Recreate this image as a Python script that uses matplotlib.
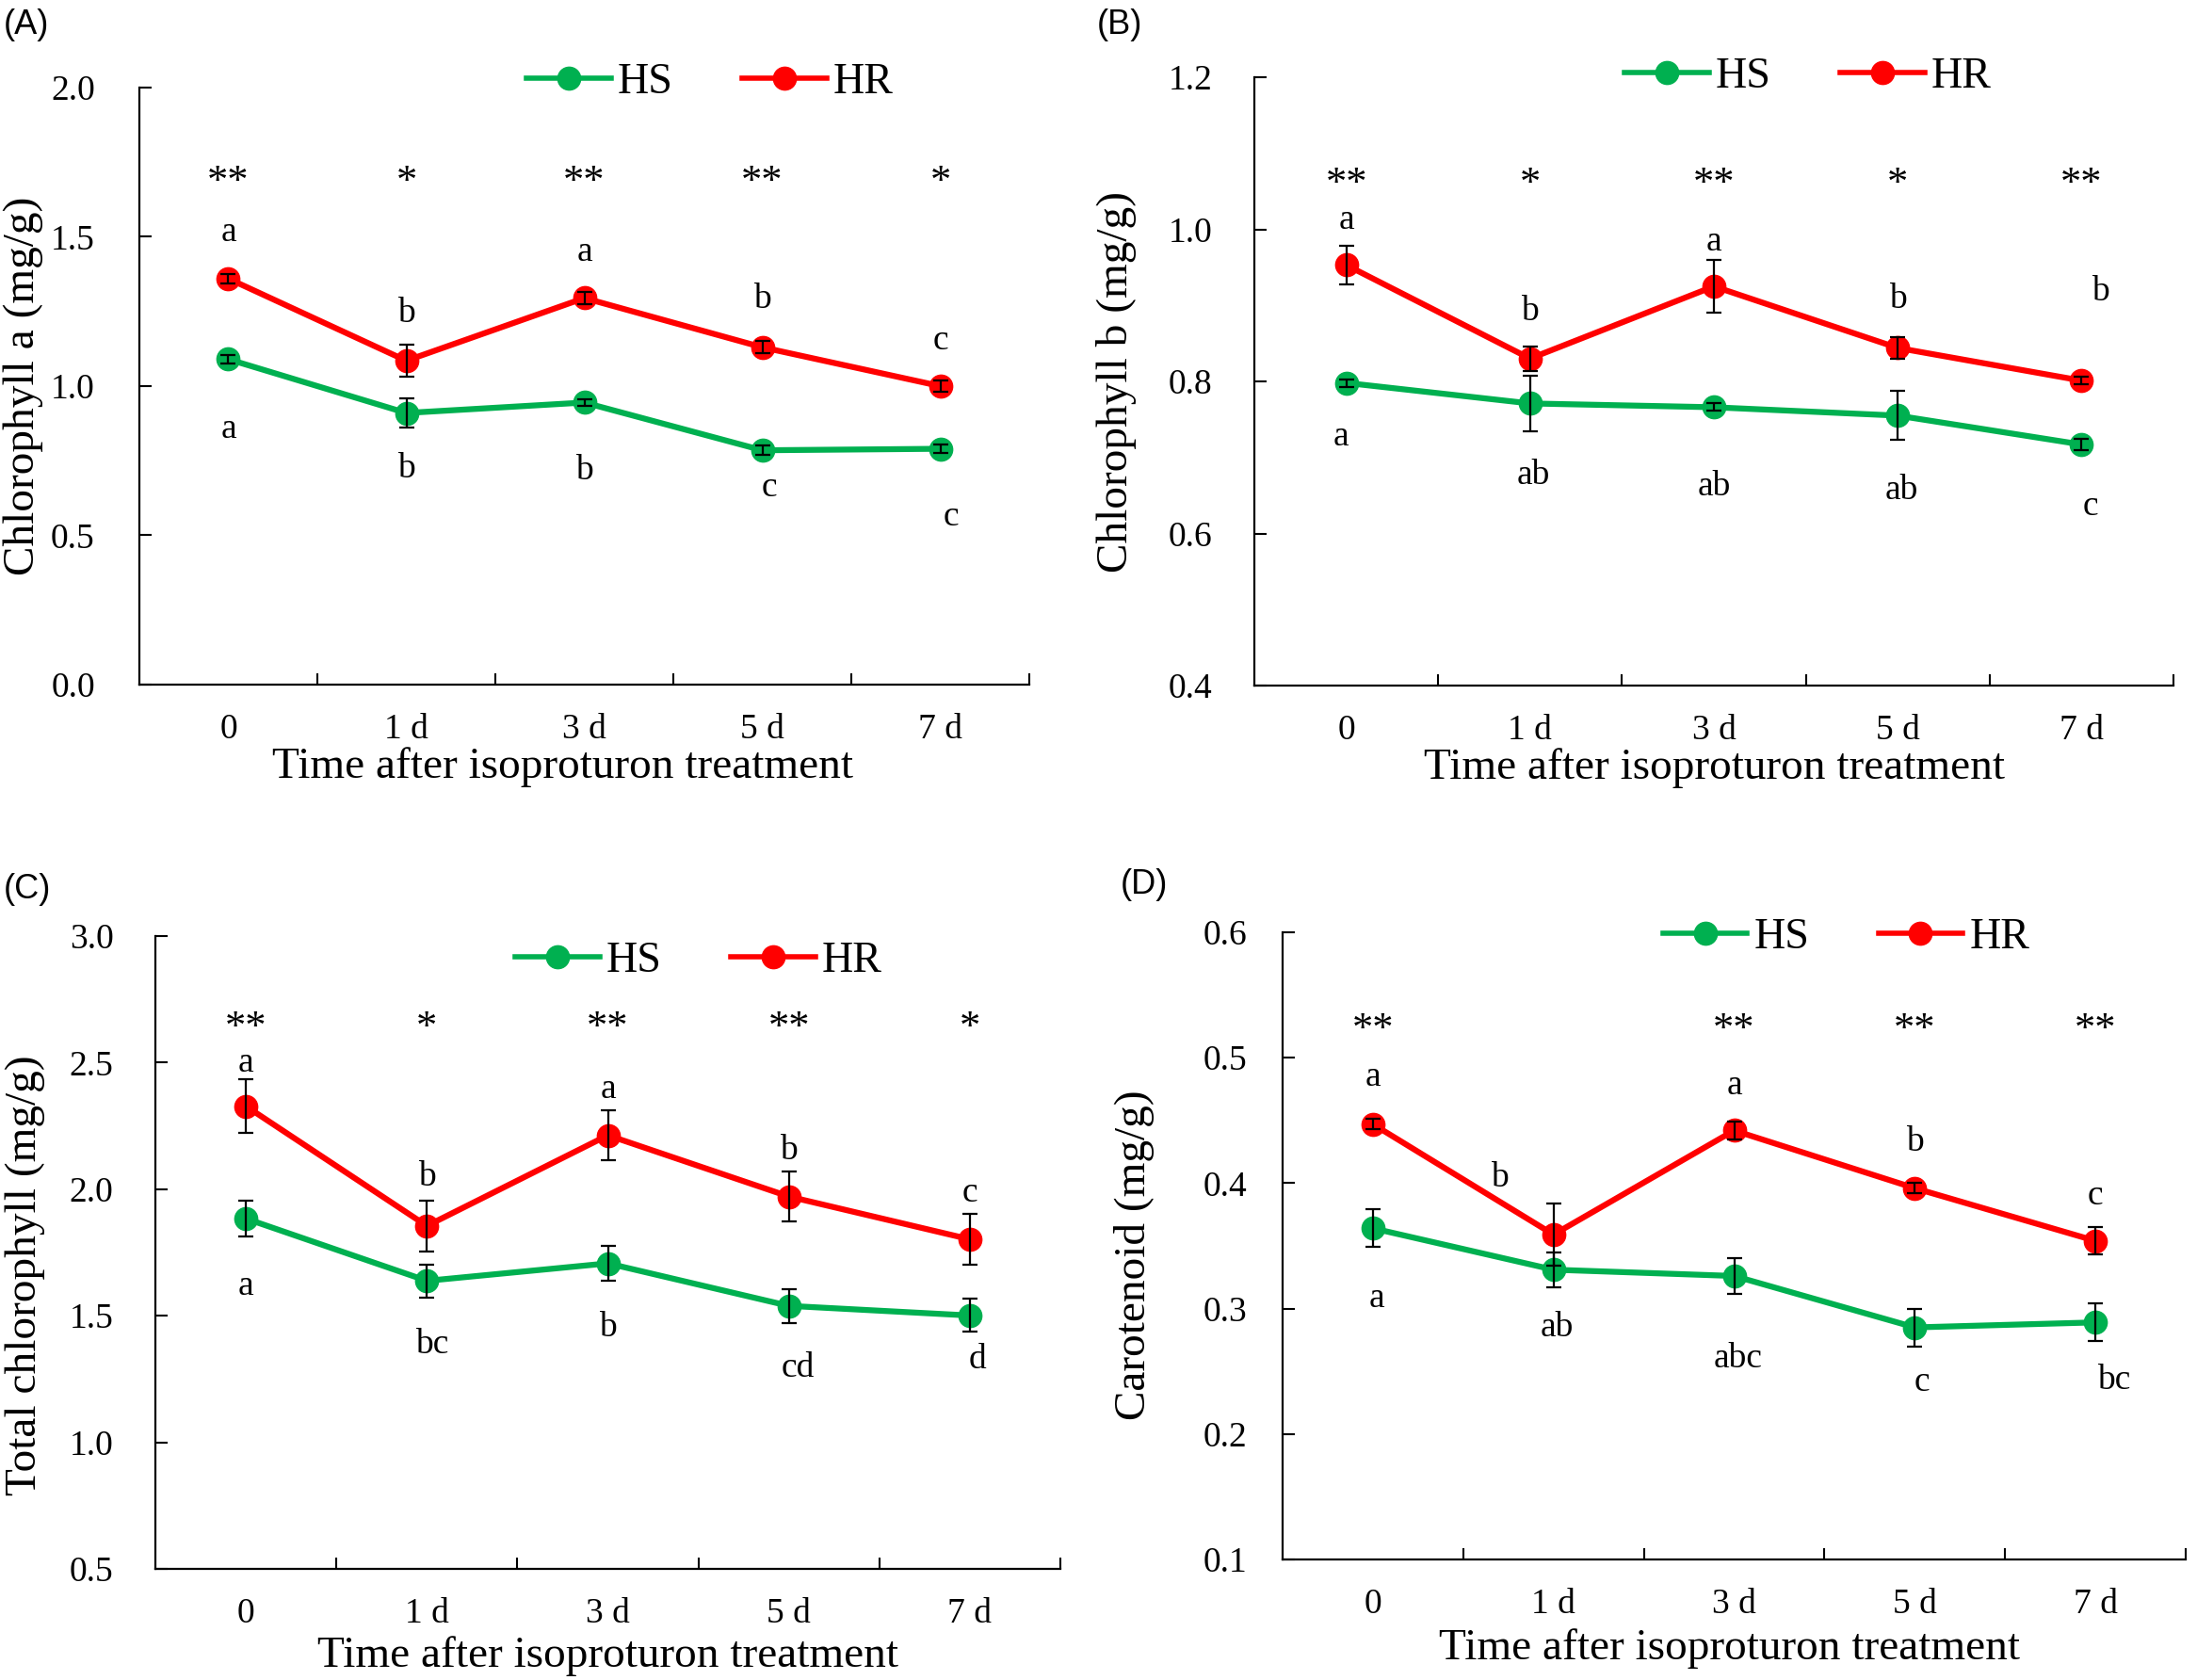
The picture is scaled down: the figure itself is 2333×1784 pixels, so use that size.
import matplotlib
matplotlib.use("Agg")
import matplotlib.pyplot as plt
import numpy as np

plt.rcParams["font.family"] = ["Liberation Serif", "DejaVu Serif"]

# ---------------- data ----------------
categories = ["0", "1 d", "3 d", "5 d", "7 d"]

# Panel A - Chlorophyll a
a_hs = [1.09, 0.91, 0.945, 0.785, 0.79]
a_hs_err = [0.015, 0.05, 0.012, 0.015, 0.015]
a_hr = [1.36, 1.085, 1.295, 1.13, 1.00]
a_hr_err = [0.015, 0.055, 0.02, 0.02, 0.02]
a_hs_letters = ["a", "b", "b", "c", "c"]
a_hr_letters = ["a", "b", "a", "b", "c"]
a_stars = ["**", "*", "**", "**", "*"]

# Panel B - Chlorophyll b
b_hs = [0.798, 0.771, 0.766, 0.755, 0.717]
b_hs_err = [0.005, 0.037, 0.005, 0.032, 0.008]
b_hr = [0.953, 0.830, 0.925, 0.844, 0.801]
b_hr_err = [0.025, 0.016, 0.035, 0.014, 0.005]
b_hs_letters = ["a", "ab", "ab", "ab", "c"]
b_hr_letters = ["a", "b", "a", "b", "b"]
b_stars = ["**", "*", "**", "*", "**"]

# Panel C - Total chlorophyll
c_hs = [1.884, 1.638, 1.707, 1.539, 1.501]
c_hs_err = [0.07, 0.065, 0.068, 0.067, 0.065]
c_hr = [2.328, 1.855, 2.213, 1.971, 1.802]
c_hr_err = [0.105, 0.10, 0.10, 0.10, 0.10]
c_hs_letters = ["a", "bc", "b", "cd", "d"]
c_hr_letters = ["a", "b", "a", "b", "c"]
c_stars = ["**", "*", "**", "**", "*"]

# Panel D - Carotenoid
d_hs = [0.364, 0.331, 0.326, 0.285, 0.289]
d_hs_err = [0.015, 0.014, 0.014, 0.015, 0.015]
d_hr = [0.447, 0.359, 0.442, 0.396, 0.354]
d_hr_err = [0.004, 0.025, 0.007, 0.004, 0.011]
d_hs_letters = ["a", "ab", "abc", "c", "bc"]
d_hr_letters = ["a", "b", "a", "b", "c"]
d_stars = ["**", "", "**", "**", "**"]

# ---------------- annotation placement (data units / category offsets) ----------------
a_hr_lab_y = [1.515, 1.244, 1.449, 1.290, 1.152]
a_hs_lab_y = [0.855, 0.724, 0.717, 0.660, 0.561]
a_hr_lab_dx = [0, 0, 0, 0, 0]
a_hs_lab_dx = [0, 0, 0, 0.04, 0.06]
a_star_y = 1.68

b_hr_lab_y = [1.012, 0.892, 0.984, 0.908, 0.918]
b_hs_lab_y = [0.727, 0.676, 0.662, 0.657, 0.635]
b_hr_lab_dx = [0, 0, 0, 0, 0.1]
b_hs_lab_dx = [-0.03, 0.02, 0, 0.02, 0.05]
b_star_y = 1.059

c_hr_lab_y = [2.50, 2.048, 2.394, 2.154, 1.985]
c_hs_lab_y = [1.617, 1.385, 1.455, 1.295, 1.328]
c_hr_lab_dx = [0, 0, 0, 0, 0]
c_hs_lab_dx = [0, 0.03, 0, 0.05, 0.04]
c_star_y = 2.635

d_hr_lab_y = [0.4845, 0.404, 0.478, 0.433, 0.390]
d_hs_lab_y = [0.308, 0.285, 0.260, 0.241, 0.243]
d_hr_lab_dx = [0, -0.3, 0, 0, 0]
d_hs_lab_dx = [0.02, 0.02, 0.02, 0.04, 0.1]
d_star_y = 0.522

W, H = 2333, 1784
fig = plt.figure(figsize=(W / 100, H / 100), dpi=100)

SERIF = ["Liberation Serif", "DejaVu Serif"]
GREEN = "#00B050"
RED = "#FF0000"
TICK_FS = 27
LABEL_FS = 34
ANN_FS = 27
STAR_FS = 32
LEG_FS = 33
LW = 4.5
MS = 17.5


def px_axes(left, right, top, bottom):
    return [left / W, 1 - bottom / H, (right - left) / W, (bottom - top) / H]


panels = [
    dict(rect=px_axes(148, 1093, 93, 727), ylim=(0.0, 2.0), yticks=np.arange(0, 2.01, 0.5),
         ylabel="Chlorophyll a (mg/g)", hs=a_hs, hs_err=a_hs_err, hr=a_hr, hr_err=a_hr_err,
         hs_l=a_hs_letters, hr_l=a_hr_letters, stars=a_stars,
         hs_y=a_hs_lab_y, hr_y=a_hr_lab_y, hs_dx=a_hs_lab_dx, hr_dx=a_hr_lab_dx, star_y=a_star_y,
         leg=(0.641, 1.009), ylc=(-0.130, 0.5), xlc=(0.476, -0.138), ypad=34,
         tag="(A)", tagxy=(4, 26)),
    dict(rect=px_axes(1332, 2308, 82, 728), ylim=(0.4, 1.2), yticks=np.arange(0.4, 1.21, 0.2),
         ylabel="Chlorophyll b (mg/g)", hs=b_hs, hs_err=b_hs_err, hr=b_hr, hr_err=b_hr_err,
         hs_l=b_hs_letters, hr_l=b_hr_letters, stars=b_stars,
         hs_y=b_hs_lab_y, hr_y=b_hr_lab_y, hs_dx=b_hs_lab_dx, hr_dx=b_hr_lab_dx, star_y=b_star_y,
         leg=(0.602, 1.0), ylc=(-0.150, 0.5), xlc=(0.50, -0.136), ypad=32,
         tag="(B)", tagxy=(1165, 26)),
    dict(rect=px_axes(165, 1126, 994, 1666), ylim=(0.5, 3.0), yticks=np.arange(0.5, 3.01, 0.5),
         ylabel="Total chlorophyll (mg/g)", hs=c_hs, hs_err=c_hs_err, hr=c_hr, hr_err=c_hr_err,
         hs_l=c_hs_letters, hr_l=c_hr_letters, stars=c_stars,
         hs_y=c_hs_lab_y, hr_y=c_hr_lab_y, hs_dx=c_hs_lab_dx, hr_dx=c_hr_lab_dx, star_y=c_star_y,
         leg=(0.600, 0.960), ylc=(-0.144, 0.464), xlc=(0.50, -0.138), ypad=32,
         tag="(C)", tagxy=(4, 944)),
    dict(rect=px_axes(1362, 2321, 990, 1656), ylim=(0.1, 0.6), yticks=np.arange(0.1, 0.61, 0.1),
         ylabel="Carotenoid (mg/g)", hs=d_hs, hs_err=d_hs_err, hr=d_hr, hr_err=d_hr_err,
         hs_l=d_hs_letters, hr_l=d_hr_letters, stars=d_stars,
         hs_y=d_hs_lab_y, hr_y=d_hr_lab_y, hs_dx=d_hs_lab_dx, hr_dx=d_hr_lab_dx, star_y=d_star_y,
         leg=(0.624, 0.992), ylc=(-0.164, 0.485), xlc=(0.495, -0.142), ypad=27,
         tag="(D)", tagxy=(1190, 940)),
]

x = np.arange(len(categories))
axes = []

for p in panels:
    ax = fig.add_axes(p["rect"])
    axes.append(ax)
    ax.plot(x, p["hs"], color=GREEN, lw=LW, marker="o", ms=MS, label="HS", zorder=3)
    ax.plot(x, p["hr"], color=RED, lw=LW, marker="o", ms=MS, label="HR", zorder=3)
    ax.errorbar(x, p["hs"], yerr=p["hs_err"], fmt="none", ecolor="black", elinewidth=1.6,
                capsize=5.5, capthick=1.6, zorder=4)
    ax.errorbar(x, p["hr"], yerr=p["hr_err"], fmt="none", ecolor="black", elinewidth=1.6,
                capsize=5.5, capthick=1.6, zorder=4)

    ax.set_xlim(-0.5, len(categories) - 0.5)
    ax.set_ylim(*p["ylim"])
    ax.set_yticks(p["yticks"])
    ax.set_yticklabels([f"{v:.1f}" for v in p["yticks"]])
    ax.set_xticks(x)
    ax.set_xticklabels(categories)
    ax.set_xticks(np.arange(0.5, len(categories), 1.0), minor=True)
    ax.tick_params(axis="x", which="major", length=0, pad=22, labelsize=TICK_FS,
                   labelfontfamily=SERIF[0])
    ax.tick_params(axis="x", which="minor", direction="in", length=9, width=1.5)
    ax.tick_params(axis="y", which="major", direction="in", length=9, width=1.5,
                   pad=p["ypad"], labelsize=TICK_FS, labelfontfamily=SERIF[0])

    for s in ["top", "right"]:
        ax.spines[s].set_visible(False)
    for s in ["left", "bottom"]:
        ax.spines[s].set_linewidth(1.6)

    ax.set_ylabel(p["ylabel"], fontsize=LABEL_FS, fontfamily=SERIF)
    ax.yaxis.set_label_coords(*p["ylc"])
    ax.yaxis.label.set_va("center")
    ax.set_xlabel("Time after isoproturon treatment", fontsize=LABEL_FS, fontfamily=SERIF)
    ax.xaxis.set_label_coords(*p["xlc"])
    ax.xaxis.label.set_va("center")

    for i in range(len(categories)):
        ax.text(x[i] + p["hr_dx"][i], p["hr_y"][i], p["hr_l"][i], ha="center", va="center",
                fontsize=ANN_FS, fontfamily=SERIF)
        ax.text(x[i] + p["hs_dx"][i], p["hs_y"][i], p["hs_l"][i], ha="center", va="center",
                fontsize=ANN_FS, fontfamily=SERIF)
        if p["stars"][i]:
            ax.text(x[i], p["star_y"], p["stars"][i], ha="center", va="center",
                    fontsize=STAR_FS, fontfamily=SERIF)

    leg = ax.legend(loc="center", bbox_to_anchor=p["leg"], ncol=2, frameon=False,
                    prop={"size": LEG_FS, "family": SERIF}, handlelength=1.96,
                    handletextpad=0.15, columnspacing=1.6, borderpad=0.2)
    for h in leg.legend_handles:
        h.set_linewidth(4)
        h.set_markersize(MS)

    fig.text(p["tagxy"][0] / W, 1 - p["tagxy"][1] / H, p["tag"], ha="left", va="center",
             fontfamily=["Liberation Sans", "DejaVu Sans"], fontsize=26)

fig.canvas.draw()
for ax in axes:
    for lab in ax.get_yticklabels() + ax.get_xticklabels():
        lab.set_fontfamily(SERIF)
        lab.set_fontsize(TICK_FS)

fig.savefig("out.png", dpi=100)
